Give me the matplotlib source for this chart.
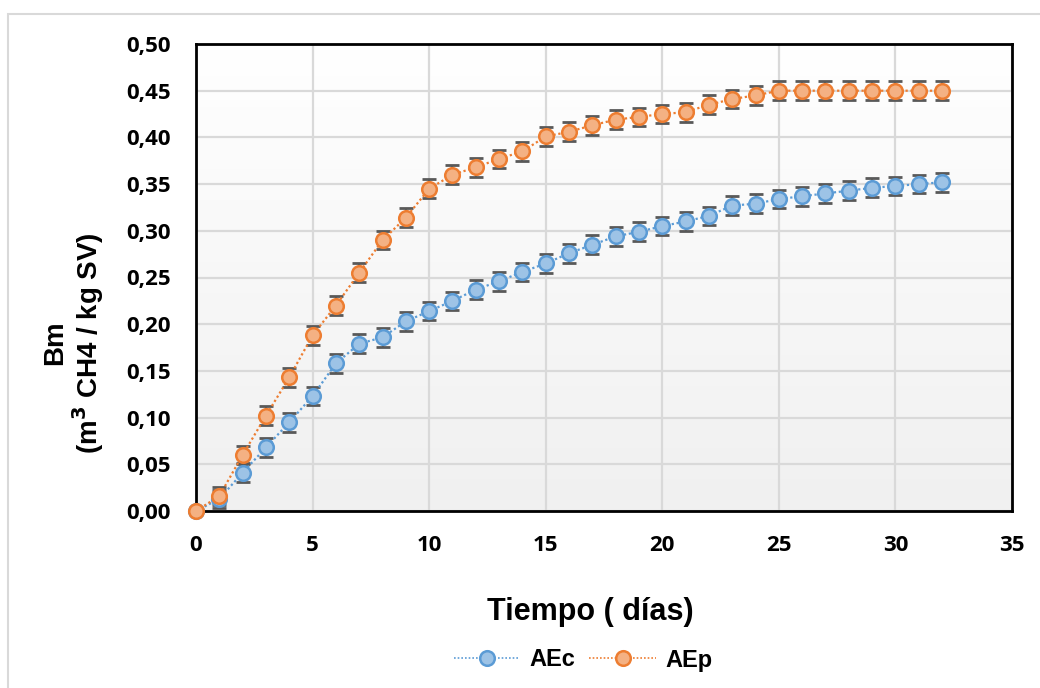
import numpy as np
import matplotlib
matplotlib.use("Agg")
import matplotlib.pyplot as plt
from matplotlib.patches import Rectangle
from matplotlib.lines import Line2D
from matplotlib.colors import LinearSegmentedColormap

dias = list(range(0, 33))
aec = [0.000, 0.013, 0.041, 0.068, 0.095, 0.123, 0.158, 0.179, 0.186, 0.203,
       0.214, 0.225, 0.237, 0.246, 0.256, 0.265, 0.276, 0.285, 0.294, 0.299,
       0.305, 0.310, 0.316, 0.327, 0.329, 0.334, 0.337, 0.340, 0.343, 0.346,
       0.348, 0.350, 0.352]
aep = [0.000, 0.016, 0.060, 0.102, 0.143, 0.188, 0.220, 0.255, 0.290, 0.314,
       0.345, 0.360, 0.368, 0.377, 0.385, 0.401, 0.406, 0.413, 0.419, 0.422,
       0.425, 0.427, 0.435, 0.441, 0.445, 0.450, 0.450, 0.450, 0.450, 0.450,
       0.450, 0.450, 0.450]
err = 0.010
xticks = [0, 5, 10, 15, 20, 25, 30, 35]
yticks = [0.00, 0.05, 0.10, 0.15, 0.20, 0.25, 0.30, 0.35, 0.40, 0.45, 0.50]

fig = plt.figure(figsize=(10.4, 6.88), dpi=100)
fig.patches.append(Rectangle((8/1040, -0.1), 1.2, (688-14)/688 + 0.1,
                             transform=fig.transFigure, fill=False,
                             edgecolor="#d9d9d9", linewidth=1.5))
ax = fig.add_axes([196/1040, (688-511)/688, 816/1040, 467/688])

grad = np.linspace(0, 1, 256).reshape(-1, 1)
cmap = LinearSegmentedColormap.from_list("bg", ["#f0f0f0", "#ffffff"])
ax.imshow(grad, extent=[0, 1, 0, 1], transform=ax.transAxes, cmap=cmap,
          aspect="auto", origin="lower", zorder=0)

ax.set_xlim(0, 35)
ax.set_ylim(0, 0.5)
ax.set_xticks(xticks)
ax.set_yticks(yticks)
ax.set_xticklabels([str(v) for v in xticks])
ax.set_yticklabels([f"{v:.2f}".replace(".", ",") for v in yticks])
ax.grid(True, color="#d9d9d9", linewidth=1.6, zorder=1)
ax.set_axisbelow(True)
for sp in ax.spines.values():
    sp.set_linewidth(2.0)
    sp.set_color("black")
ax.tick_params(axis="y", length=0, pad=18, labelsize=16)
ax.tick_params(axis="x", length=0, pad=17, labelsize=16)
for lab in ax.get_xticklabels() + ax.get_yticklabels():
    lab.set_fontweight("bold")
    lab.set_family("Open Sans")

series = [(aec, "AEc", "#5b9bd5", "#9dc3e6"), (aep, "AEp", "#ed7d31", "#f4b183")]
for vals, name, ec, fc in series:
    ax.errorbar(dias[1:], vals[1:], yerr=err, fmt="none", ecolor="#595959",
                elinewidth=1.5, capsize=5.2, capthick=2, zorder=3, clip_on=False)
    ax.plot(dias, vals, linestyle=(0, (1, 1.2)), color=ec, linewidth=1.6,
            marker="o", markersize=10.5, markerfacecolor=fc,
            markeredgecolor=ec, markeredgewidth=1.8, zorder=4, clip_on=False,
            label=name)

fig.text(590/1040, 1 - 612/688, "Tiempo ( días)", ha="center", va="center",
         fontsize=22, fontweight="bold", family="Liberation Sans")
fig.text(74/1040, 1 - 343/688, "Bm\n(m$^{\\mathbf{3}}$ CH4 / kg SV)", ha="center",
         va="center", rotation=90, fontsize=20, fontweight="bold",
         family="Liberation Sans", linespacing=1.05)

handles = [Line2D([], [], linestyle=(0, (1, 1.2)), color=ec, linewidth=1.2,
                  marker="o", markersize=10.5, markerfacecolor=fc,
                  markeredgecolor=ec, markeredgewidth=1.8)
           for _, _, ec, fc in series]
fig.legend(handles, ["AEc", "AEp"], loc="center", bbox_to_anchor=(583/1040, 1 - 660/688),
           ncol=2, frameon=False, handlelength=2.8, columnspacing=0.6,
           handletextpad=0.4, borderpad=0, borderaxespad=0,
           prop={"family": "Liberation Sans", "weight": "bold", "size": 17})

fig.savefig("out.png", dpi=100)
